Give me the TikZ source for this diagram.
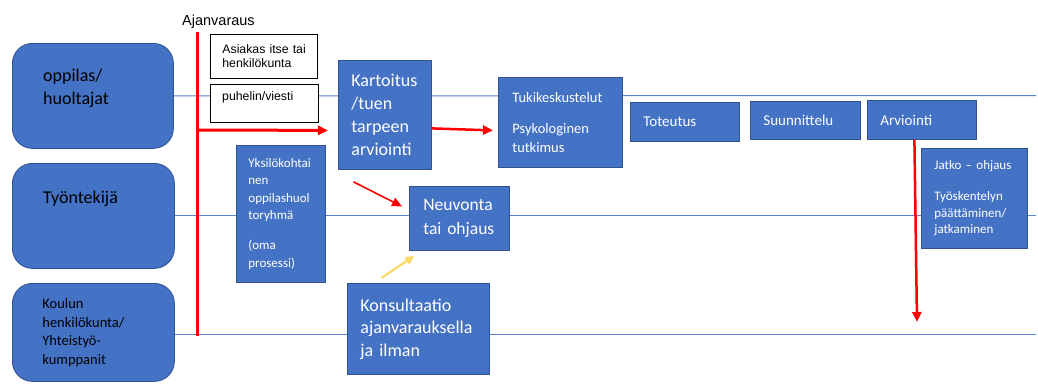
\documentclass[tikz,border=0pt]{standalone}
\usepackage{fontspec}
\setmainfont{Carlito}
\newfontfamily\arialf{Liberation Sans}
\usetikzlibrary{arrows.meta,calc}
\definecolor{boxblue}{HTML}{4472C4}
\definecolor{boxedge}{HTML}{2F528F}
\definecolor{lineblue}{HTML}{5B80C8}
\definecolor{arrred}{HTML}{FF0000}
\definecolor{arryellow}{HTML}{FFD966}
\newcommand\myfs[2]{\fontsize{#1}{#2}\selectfont}
\begin{document}
\begin{tikzpicture}[x=1pt,y=-1pt,
  bx/.style n args={4}{minimum width=#1pt, minimum height=#2pt, inner xsep=#3pt, text width=#4pt},
  bluebox/.style={draw=boxedge, line width=0.8pt, fill=boxblue, text=white, align=left, anchor=north west, inner ysep=0pt},
  lane/.style={draw=boxedge, line width=0.8pt, fill=boxblue, text=black, align=left, anchor=north west, inner ysep=0pt, rounded corners=20pt},
  whitebox/.style={draw=black, line width=0.8pt, fill=white, text=black, align=left, anchor=north west, inner ysep=0pt, font=\arialf\myfs{12.3pt}{14.3pt}},
  lanetext/.style={text=black, align=left, inner sep=0pt},
  hline/.style={draw=lineblue, line width=1pt},
  redarrow/.style={draw=arrred, line width=#1, -{Triangle[length=10pt,width=9pt]}},
  yelarrow/.style={draw=arryellow, line width=2.2pt, -{Triangle[length=9pt,width=8pt]}},
]
\useasboundingbox (0,0) rectangle (1038,383);

% lanes
\node[lane, bx={161}{105}{0}{161}] (opp) at (12,43) {};
\node[lane, bx={162}{105}{0}{162}] (tyo) at (12,163) {};
\node[lane, bx={162}{98}{30}{102}, font=\myfs{14.5pt}{18.5pt}] (kou) at (12,283) {Koulun\\henkilökunta/\\Yhteistyö-\\kumppanit};
\node[lanetext, anchor=north west, font=\myfs{18pt}{23pt}] (opptxt) at ($(opp.north west)+(31,26)$) {oppilas/\\huoltajat};
\node[lanetext, anchor=base west, font=\myfs{18pt}{23pt}] (tyotxt) at ($(tyo.north west)+(31,40)$) {Työntekijä};

% horizontal lane lines
\coordinate (e1) at (1036,95.5);
\coordinate (e2) at (1036,215);
\coordinate (e3) at (1036,334.5);
\draw[hline] (opp.east) -- (e1);
\draw[hline] (tyo.east |- e2) -- (e2);
\draw[hline] (kou.east |- e3) -- (e3);

% white boxes
\node[whitebox, bx={107}{44}{12}{83}] (asi) at (210,34) {Asiakas~itse~tai\\henkilökunta};
\node[whitebox, bx={108}{38}{12}{84}] (puh) at (210,84) {};
\node[anchor=base west, inner sep=0pt, font=\arialf\myfs{12.3pt}{14.3pt}] (puhtxt) at ($(puh.north west)+(12,16)$) {puhelin/viesti};

% Ajanvaraus line
\node[anchor=base west, inner sep=0pt, font=\arialf\myfs{14.5pt}{17pt}] (ajl) at (182,25) {Ajanvaraus};
\coordinate (ajt) at (197,32);
\coordinate (ajb) at (197,336);
\coordinate (aj1) at (197,130);
\draw[draw=arrred, line width=3pt] (ajt) -- (ajb);

% blue boxes
\node[bluebox, bx={93}{109}{13}{67}, font=\myfs{18pt}{23.3pt}] (kart) at (338,60) {Kartoitus\\/tuen\\tarpeen\\arviointi};
\node[bluebox, bx={124}{90}{14}{96}, font=\myfs{14.5pt}{18.3pt}] (tuki) at (498,77) {Tukikeskustelut\\[12.7pt]Psykologinen\\tutkimus};
\node[bluebox, bx={109}{39}{13}{83}, font=\myfs{15pt}{18pt}] (tot) at (630,102) {Toteutus};
\node[bluebox, bx={110}{38}{13}{84}, font=\myfs{15pt}{18pt}] (suu) at (750,101) {Suunnittelu};
\node[bluebox, bx={109}{39}{13}{83}, font=\myfs{15pt}{18pt}] (arv) at (867,100) {Arviointi};
\node[bluebox, bx={106}{100}{13}{80}, font=\myfs{13pt}{16.5pt}] (jat) at (921,148) {Jatko~–~ohjaus\\[14.5pt]Työskentelyn\\päättäminen/\\jatkaminen};
\node[bluebox, bx={89}{137}{12}{65}, font=\myfs{13pt}{17.5pt}] (yks) at (236,145) {Yksilökohtai\\nen\\oppilashuol\\toryhmä\\[12.5pt](oma\\prosessi)};
\node[bluebox, bx={100}{64}{14}{72}, font=\myfs{17.5pt}{23.3pt}] (neu) at (409,186) {Neuvonta\\tai~ohjaus};
\node[bluebox, bx={142}{91}{13}{116}, font=\myfs{18pt}{22.5pt}] (kon) at (347,283) {Konsultaatio\\ajanvarauksella\\ja~ilman};

% arrows
\draw[redarrow=3pt] (aj1) -- ($(kart.west)+(-10,15.5)$);
\draw[redarrow=2.5pt] ($(kart.east)+(0,13.5)$) -- ($(tuki.west)+(-5,8)$);
\draw[redarrow=1.6pt] ($(kart.south)+(-31.5,12)$) -- ($(neu.west)+(-7,-12)$);
\draw[yelarrow] ($(kon.north)+(-37,-5)$) -- ($(neu.south)+(-45,5)$);
\coordinate (arvend) at (917,322);
\draw[redarrow=2.5pt] ($(arv.south)+(-7.5,0)$) -- (arvend);
\end{tikzpicture}
\end{document}
